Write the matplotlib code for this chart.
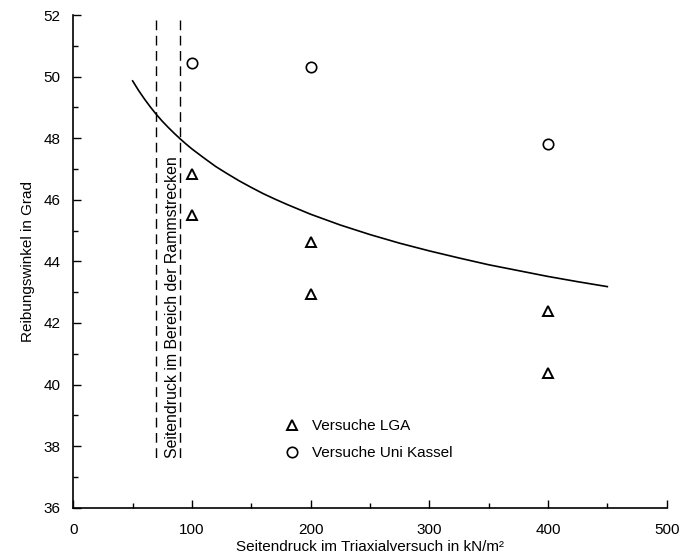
import numpy as np
import matplotlib
matplotlib.use("Agg")
import matplotlib.pyplot as plt

plt.rcParams["font.family"] = ["Liberation Sans", "DejaVu Sans"]

# Versuche LGA
lga_x = [100, 100, 200, 200, 400, 400]
lga_y = [46.84, 45.52, 44.64, 42.94, 42.39, 40.38]

# Versuche Uni Kassel
kassel_x = [100, 200, 400]
kassel_y = [50.43, 50.31, 47.8]

# Ausgleichskurve
kurve_x = [50, 55, 60, 65, 70, 75, 80, 85, 90, 95, 100, 110, 120, 130, 140,
           150, 160, 170, 180, 190, 200, 225, 250, 275, 300, 325, 350, 375,
           400, 425, 450]
kurve_y = [49.86, 49.55, 49.27, 49.01, 48.77, 48.55, 48.35, 48.16, 47.98,
           47.81, 47.65, 47.36, 47.08, 46.84, 46.61, 46.40, 46.20, 46.02,
           45.85, 45.69, 45.53, 45.18, 44.87, 44.59, 44.34, 44.11, 43.89,
           43.70, 43.51, 43.34, 43.18]

# Bereich der Rammstrecken
ramm_x = [70, 90]
ramm_y = [51.85, 37.6]

fig = plt.figure(figsize=(6.8, 5.58), dpi=100)
ax = fig.add_axes([0.1078, 0.0901, 0.9804 - 0.1078, 0.9731 - 0.0901])

ax.plot(kurve_x, kurve_y, color="black", lw=1.2)

for xv in ramm_x:
    ax.plot([xv, xv], ramm_y, color="black", lw=1.0, linestyle=(0, (7, 4)))

ax.text(84, 37.6, "Seitendruck im Bereich der Rammstrecken", rotation=90,
        ha="center", va="bottom", fontsize=11.4)

h1, = ax.plot(lga_x, lga_y, linestyle="none", marker="^", ms=6.5,
              mfc="white", mec="black", mew=1.4, label="Versuche LGA")
h2, = ax.plot(kassel_x, kassel_y, linestyle="none", marker="o", ms=7.5,
              mfc="white", mec="black", mew=1.2, label="Versuche Uni Kassel")

ax.legend(handles=[h1, h2], loc="upper left", bbox_to_anchor=(0.356, 0.18),
          frameon=False, fontsize=11, handlelength=1.0, handletextpad=0.77,
          labelspacing=0.85, borderpad=0, borderaxespad=0)

ax.set_xlim(0, 500)
ax.set_ylim(36, 52)
ax.set_xticks(np.arange(0, 501, 100))
ax.set_xticks(np.arange(50, 500, 100), minor=True)
ax.set_yticks(np.arange(36, 53, 2))
ax.set_yticks(np.arange(37, 52, 2), minor=True)

ax.spines["top"].set_visible(False)
ax.spines["right"].set_visible(False)
for s in ["left", "bottom"]:
    ax.spines[s].set_linewidth(1.2)

ax.tick_params(which="major", direction="in", length=5.5, width=1.0,
               labelsize=11)
ax.tick_params(which="minor", direction="in", length=3.8, width=1.0)
ax.tick_params(axis="x", which="major", pad=11)
ax.tick_params(axis="y", which="major", pad=9)

ax.set_xlabel("Seitendruck im Triaxialversuch in kN/m²", fontsize=11,
              labelpad=2)
ax.set_ylabel("Reibungswinkel in Grad", fontsize=11, labelpad=6)

fig.savefig("out.png", dpi=100)
